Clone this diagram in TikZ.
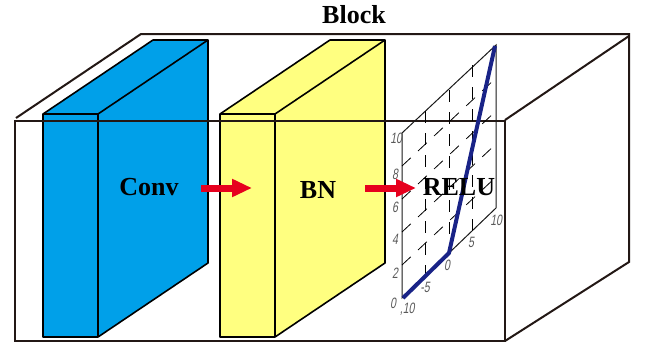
\documentclass[tikz,border=0pt]{standalone}
\usepackage{fontspec}
\setmainfont{Liberation Serif}
\setsansfont{Liberation Sans}
\usetikzlibrary{arrows.meta,positioning,calc}
\definecolor{CONV-BLUE}{RGB}{0, 160, 233}
\definecolor{BN-YELLOW}{RGB}{255, 255, 128}
\definecolor{BOX-DARK}{RGB}{35, 24, 21}
\definecolor{CURVE-BLUE}{RGB}{25, 35, 135}
\definecolor{FLOW-RED}{RGB}{230, 0, 30}
\tikzset{
  boxline/.style={draw=BOX-DARK, line width=2pt},
  blockline/.style={draw=black, line width=1.6pt, line join=round},
  flowarrow/.style={-{Triangle[length=20pt,width=17pt]}, FLOW-RED, line width=7pt},
  title/.style={font=\bfseries\fontsize{26}{26}\selectfont, text=black, inner sep=0pt},
  tick/.style={font=\sffamily\fontsize{15}{15}\selectfont, text=black!65, inner sep=0pt, xscale=0.7, xslant=0.25, transform shape},
  grid/.style={draw=black, line width=0.8pt, dash pattern=on 12pt off 10pt},
  axis/.style={draw=black!90, line width=1pt},
}

\begin{document}
\begin{tikzpicture}[x=1pt,y=-1pt]
  \useasboundingbox (0,0) rectangle (646,343);

  % Back edges of the outer box
  \draw[boxline] (16,118) -- (141,34) -- (629,34) -- (629,262) -- (505,341);
  \draw[boxline] (505,120) -- (629,36);

  % Conv block
  \fill[CONV-BLUE, blockline] (43,114) -- (153,40) -- (208,40) -- (208,263) -- (98,337) -- (43,337) -- cycle;
  \draw[blockline] (43,114) -- (98,114) -- (98,337);
  \draw[blockline] (98,114) -- (208,40);

  % BN block
  \fill[BN-YELLOW, blockline] (220,114) -- (330,40) -- (385,40) -- (385,263) -- (275,337) -- (220,337) -- cycle;
  \draw[blockline] (220,114) -- (275,114) -- (275,337);
  \draw[blockline] (275,114) -- (385,40);

  % Front of the outer box
  \draw[boxline] (15,120.5) -- (505,120.5) -- (505,341) -- (15,341) -- cycle;

  % Plane of the plot
  \draw[axis] (402,298) -- (402,133) -- (496,45) -- (496,208) -- cycle;

  % Grid of the plot
  \foreach \x/\ya/\yb in {425.5/111/276, 449/90/253, 472.5/65/232}
    \draw[grid] (\x,\ya) -- (\x,\yb);
  \foreach \y in {265,232,199,166}
    \draw[grid] (402,\y) -- (496,\y-88);

  % Tick labels
  \foreach \y/\t in {273/2,239/4,207/6,174/8}
    \node[tick] at (396,\y) {\t};
  \node[tick] at (394,303) {0};
  \node[tick] at (397,138) {10};
  \node[tick] at (408,309) {,10};
  \node[tick] at (426,287) {-5};
  \node[tick] at (448,265) {0};
  \node[tick] at (472,242) {5};
  \node[tick] at (497,220) {10};

  % ReLU curve
  \draw[CURVE-BLUE, line width=4pt, line join=round] (403,298) -- (449,253) -- (495,46);

  % Labels
  \node[title] (block) at (354,15) {Block};
  \node[title] (conv) at (149,187) {Conv};
  \node[title] (bn) at (318,190) {BN};
  \node[title] (relu) at (459,187) {RELU};

  % Flow arrows
  \coordinate (a1) at (201,188);
  \coordinate (a2) at (252,188);
  \coordinate (b1) at (365,188);
  \coordinate (b2) at (416,188);
  \draw[flowarrow] (a1) -- (a2);
  \draw[flowarrow] (b1) -- (b2);
\end{tikzpicture}
\end{document}
